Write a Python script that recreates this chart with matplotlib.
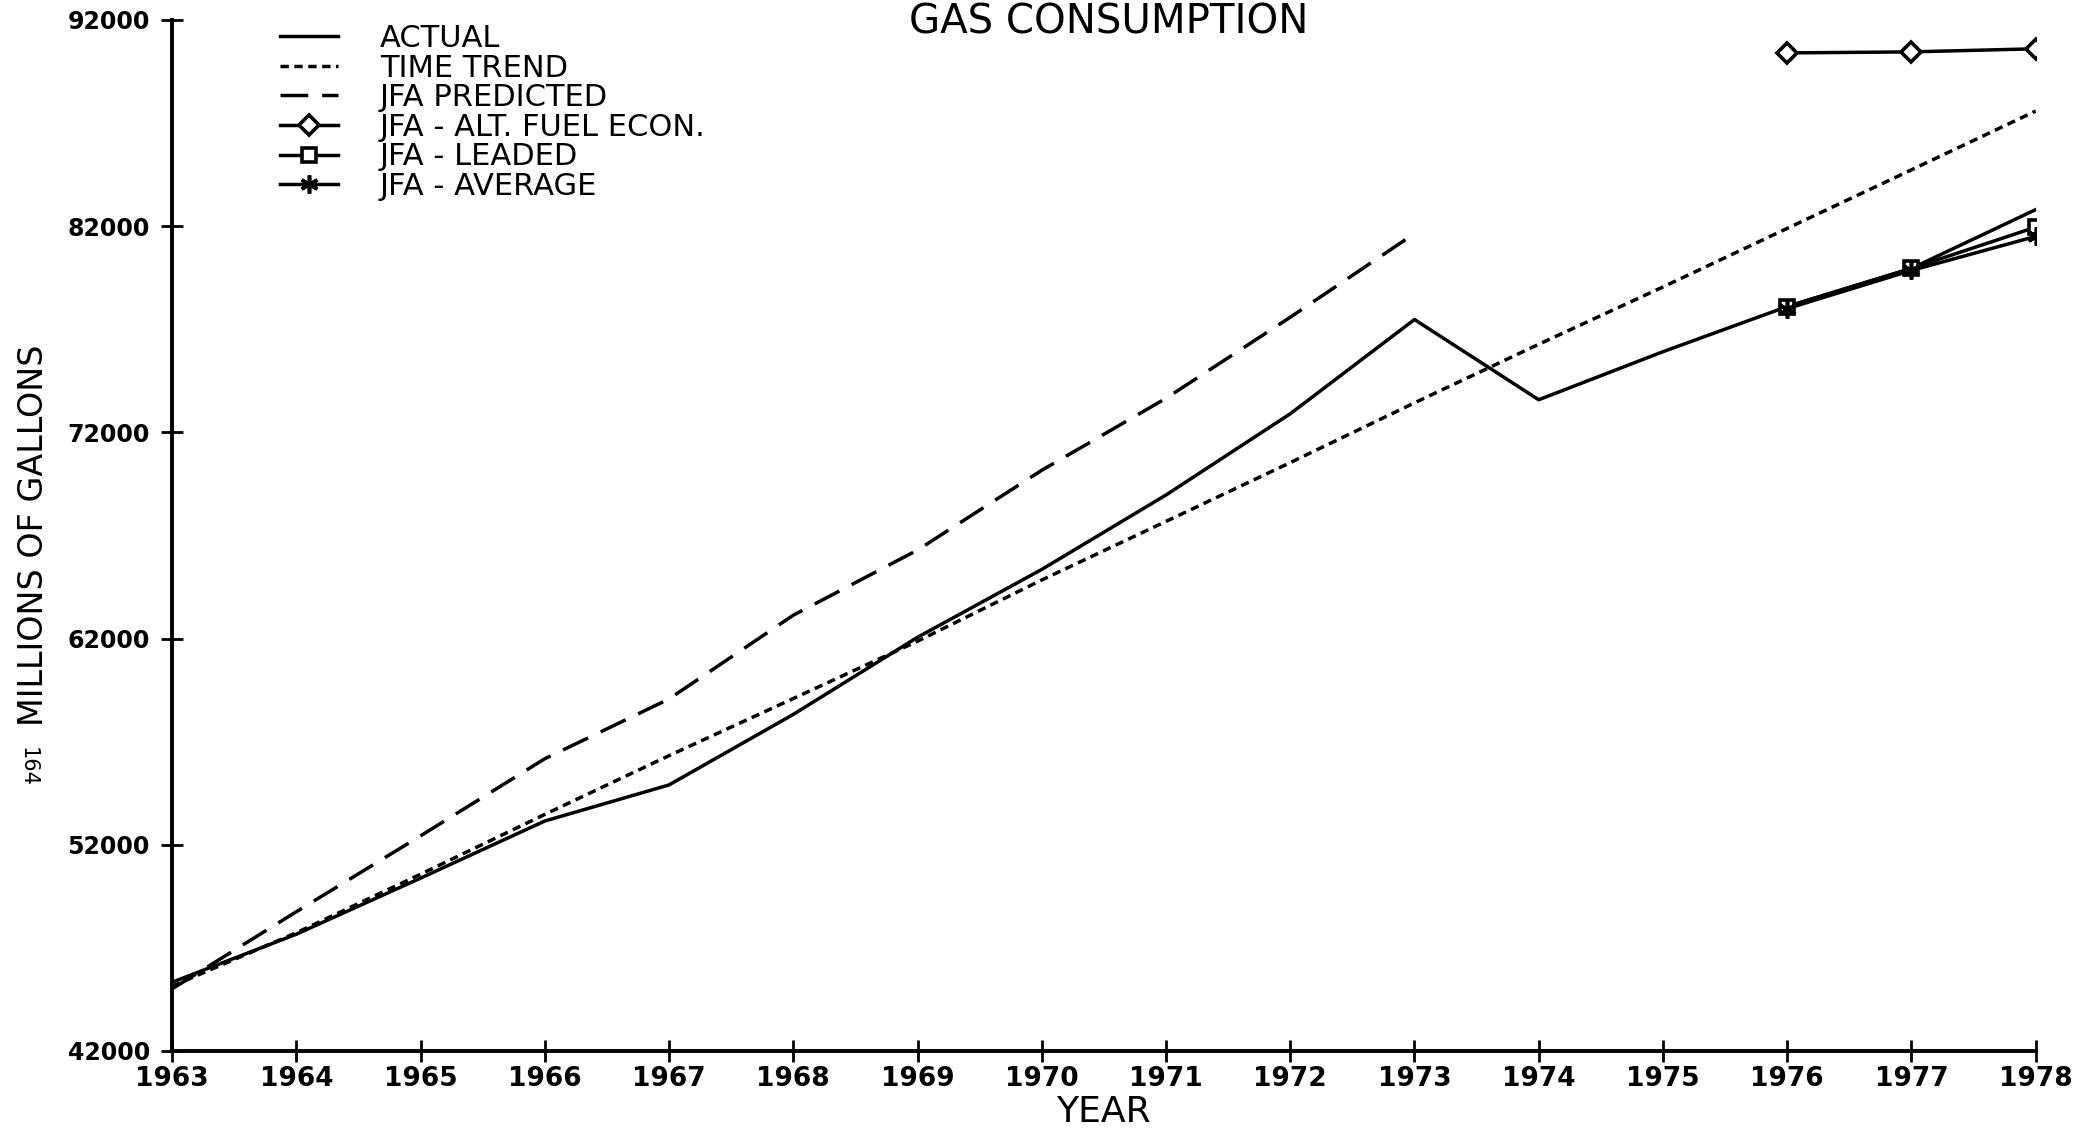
"""
Gas consumption: actual vs. time trend vs. JFA forecasts
"""

import matplotlib
matplotlib.use("Agg")
import matplotlib.pyplot as plt

plt.rcParams['lines.scale_dashes'] = False

years = list(range(1963, 1979))
actual = [45330, 47660, 50380, 53150, 54900, 58320, 62060, 65350,
          68960, 72900, 77470, 73580, 75910, 78100, 79950, 82800]
time_trend = [45140, 47730, 50570, 53470, 56320, 59090, 61870, 64840,
              67680, 70530, 73430, 76270, 79050, 81890, 84730, 87580]

jfa_years = list(range(1963, 1974))
jfa_predicted = [45010, 48750, 52430, 56170, 59070, 63130, 66290, 70160,
                 73650, 77580, 81640]

fcst_years = [1976, 1977, 1978]
alt_fuel = [90400, 90450, 90600]
leaded = [78100, 79950, 81950]
average = [78000, 79850, 81500]

y_ticks = [42000, 52000, 62000, 72000, 82000, 92000]

fig = plt.figure(figsize=(20.73, 11.38), dpi=100)
ax = fig.add_axes([0.083, 0.0765, 0.899, 0.906])

lw = 2.5
ax.plot(years, actual, color='black', lw=lw, label='ACTUAL')
ax.plot(years, time_trend, color='black', lw=lw, dashes=(6, 4),
        label='TIME TREND')
ax.plot(jfa_years, jfa_predicted, color='black', lw=lw, dashes=(20, 10),
        label='JFA PREDICTED')
ax.plot(fcst_years, alt_fuel, color='black', lw=lw, marker='D',
        markersize=10, markerfacecolor='white', markeredgewidth=2.6,
        label='JFA - ALT. FUEL ECON.')
ax.plot(fcst_years, leaded, color='black', lw=lw, marker='s',
        markersize=10, markerfacecolor='white', markeredgewidth=2.6,
        label='JFA - LEADED')
ax.plot(fcst_years, average, color='black', lw=lw, marker=(6, 2, 0),
        markersize=13, markeredgewidth=2.6, label='JFA - AVERAGE')

ax.set_xlim(1963, 1978)
ax.set_ylim(42000, 92000)
ax.set_xticks(years)
ax.set_yticks(y_ticks)
ax.set_xticklabels([str(y) for y in years], fontsize=19, fontweight='bold')
ax.set_yticklabels([str(v) for v in y_ticks], fontsize=17, fontweight='bold')

for side in ['top', 'right']:
    ax.spines[side].set_visible(False)
for side in ['left', 'bottom']:
    ax.spines[side].set_linewidth(2.8)
ax.tick_params(axis='both', direction='inout', length=16, width=2)
ax.tick_params(axis='y', pad=8)
ax.tick_params(axis='x', pad=3)

ax.set_xlabel('YEAR', fontsize=26, labelpad=2)
fig.text(0.016, 0.53, 'MILLIONS OF GALLONS', rotation=90, fontsize=24,
         ha='center', va='center')
fig.text(0.0135, 0.326, '164', rotation=-90, fontsize=15,
         ha='center', va='center')

fig.text(0.535, 0.998, 'GAS CONSUMPTION', fontsize=29,
         ha='center', va='top')

ax.legend(loc='upper left', bbox_to_anchor=(0.135, 0.979),
          bbox_transform=fig.transFigure, frameon=False, fontsize=22,
          handlelength=1.9, handletextpad=1.37, labelspacing=0.02,
          borderpad=0, borderaxespad=0)

plt.savefig('out.png', dpi=100)
